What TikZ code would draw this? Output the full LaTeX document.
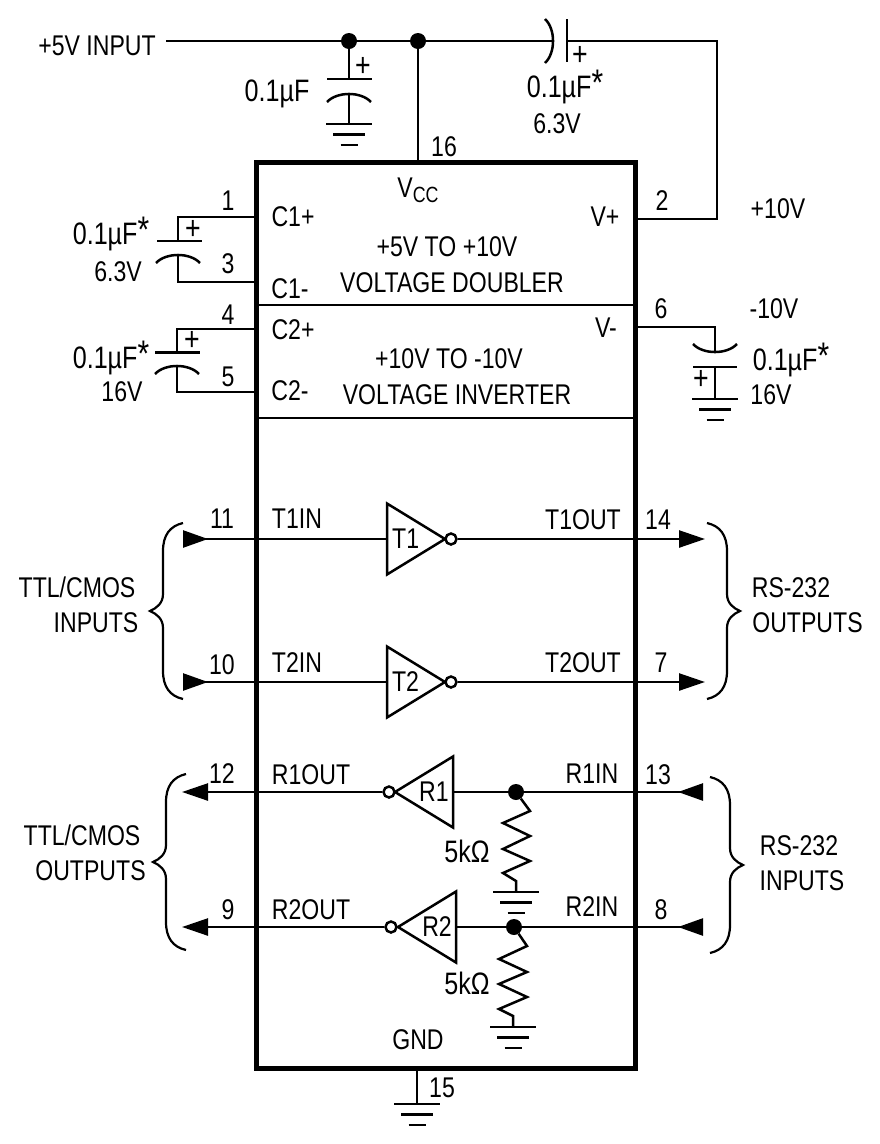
\documentclass[tikz,border=0pt]{standalone}
\usepackage{fontspec}
\setmainfont[FakeStretch=0.81]{Liberation Sans}
\usetikzlibrary{arrows.meta,shapes.geometric}
\newcommand{\capstar}{\raisebox{1.5pt}{\fontsize{37}{37}\selectfont *}}
\tikzset{%
  wire/.style     = {line width=2.5pt},%
  lbl/.style      = {inner sep=0pt, text height=20.4pt, text depth=0pt,%
                     font=\fontsize{28.5}{30}\selectfont},%
  val/.style      = {lbl, font=\fontsize{31}{32}\selectfont},%
  plus/.style     = {lbl, font=\fontsize{33}{33}\selectfont},%
  chipbox/.style  = {draw, line width=5pt, inner sep=0pt, outer sep=0pt,%
                     minimum width=378.5pt, minimum height=905.5pt},%
  inv/.style      = {draw, wire, shape=isosceles triangle, isosceles triangle stretches,%
                     inner sep=0pt, outer sep=0pt, minimum width=71pt, minimum height=58pt,%
                     font=\fontsize{28.5}{30}\selectfont},%
  bub/.style      = {circle, draw, wire, fill=white, inner sep=0pt, minimum size=11pt},%
  dot/.style      = {circle, fill=black, inner sep=0pt, minimum size=16pt},%
  headin/.style   = {wire, {Triangle[reversed,length=25pt,width=17pt]}-},%
  headout/.style  = {wire, -{Triangle[length=26pt,width=17pt]}},%
  headback/.style = {wire, -{Triangle[reversed,length=25pt,width=17pt]}},%
  gnd/.pic        = {\draw[wire] (-23,0) -- (23,0) (-16,10.5) -- (16,10.5) (-8.5,21) -- (8.5,21);},%
  plate/.pic      = {\draw[wire] (-22,8) .. controls (-12,-2.7) and (12,-2.7) .. (22,8);},%
  brace/.pic      = {\draw[line width=2.2pt] (33,-88) .. controls (20,-85) and (13,-76) .. (13,-60)
                     -- (13,-17) .. controls (13,-8) and (7,-3) .. (0,0)
                     .. controls (7,3) and (13,8) .. (13,17) -- (13,60)
                     .. controls (13,76) and (20,85) .. (33,88);}%
}

\begin{document}
\begin{tikzpicture}[x=1pt,y=-1pt]
	\useasboundingbox (0,0) rectangle (880,1144);
	\node[chipbox] (chip) at (445.75,615.25) {};
	\coordinate (div1) at (256,305);
	\coordinate (div2) at (256,418);
	\draw[wire] (chip.west |- div1) -- (chip.east |- div1);
	\draw[wire] (chip.west |- div2) -- (chip.east |- div2);

	% supply rail
	\node[lbl] (lin) at (97,45) {+5V INPUT};
	\coordinate (rail) at (166,41);
	\node[dot] (d1) at (349,41) {};
	\node[dot] (d2) at (418,41) {};
	\coordinate (pump1) at (553,41);
	\coordinate (pump2) at (567,41);
	\coordinate (pump3) at (717,41);
	\coordinate (pin2) at (717,219);
	\draw[wire] (rail) -- (d1) -- (d2) -- (pump1);
	\draw[wire] (pump2) -- (pump3) -- (pin2) -- (chip.east |- pin2);
	\draw[wire] (d2) -- (d2 |- chip.north);
	\draw[wire] (567,19) -- (567,62);
	\pic[rotate=-90] at (pump1) {plate};
	\node[plus] (pp) at (580,55) {+};
	\node[val] (lpv) at (565,87) {0.1µF\capstar};
	\node[lbl] (lpw) at (557,123) {6.3V};

	\coordinate (c0a) at (349,79);
	\coordinate (c0b) at (349,94);
	\coordinate (c0c) at (349,124);
	\draw[wire] (d1) -- (c0a) (c0b) -- (c0c);
	\draw[wire] (327,79) -- (372,79);
	\pic at (c0b) {plate};
	\pic at (c0c) {gnd};
	\node[plus] (p0) at (363,66) {+};
	\node[val] (l0) at (277,91) {0.1µF};

	% C1
	\coordinate (c1a) at (178,217);
	\coordinate (c1b) at (178,241);
	\coordinate (c1c) at (178,255);
	\coordinate (c1d) at (178,282);
	\draw[wire] (chip.west |- c1a) -- (c1a) -- (c1b);
	\draw[wire] (c1c) -- (c1d) -- (chip.west |- c1d);
	\draw[wire] (157,241) -- (202,241);
	\pic at (c1c) {plate};
	\node[plus] (p1) at (193,229) {+};
	\node[val] (l1v) at (111,234) {0.1µF\capstar};
	\node[lbl] (l1w) at (118,271) {6.3V};

	% C2
	\coordinate (c2a) at (177,329);
	\coordinate (c2b) at (177,352.5);
	\coordinate (c2c) at (177,366);
	\coordinate (c2d) at (177,392);
	\draw[wire] (chip.west |- c2a) -- (c2a) -- (c2b);
	\draw[wire] (c2c) -- (c2d) -- (chip.west |- c2d);
	\draw[wire] (155,352.5) -- (200,352.5);
	\pic at (c2c) {plate};
	\node[plus] (p2) at (192,340) {+};
	\node[val] (l2v) at (111,358) {0.1µF\capstar};
	\node[lbl] (l2w) at (122,391) {16V};

	% C4
	\coordinate (c4a) at (715,327);
	\coordinate (c4b) at (715,352);
	\coordinate (c4c) at (715,367);
	\coordinate (c4d) at (715,399);
	\draw[wire] (chip.east |- c4a) -- (c4a) -- (c4b);
	\draw[wire] (c4c) -- (c4d);
	\draw[wire] (693,367) -- (737,367);
	\pic[yscale=-1] at (c4b) {plate};
	\pic at (c4d) {gnd};
	\node[plus] (p4) at (701,379) {+};
	\node[val] (l4v) at (791,360) {0.1µF\capstar};
	\node[lbl] (l4w) at (771,394) {16V};

	% chip texts
	\node[lbl] (n16) at (444,146) {16};
	\node[lbl] (vcc) at (418,187.5) {V\raisebox{-5pt}{\fontsize{22}{24}\selectfont CC}};
	\node[lbl] (n1) at (228,200) {1};
	\node[lbl] (n3) at (228,263) {3};
	\node[lbl] (n4) at (228,314) {4};
	\node[lbl] (n5) at (228,376) {5};
	\node[lbl] (n2) at (662,200) {2};
	\node[lbl] (n6) at (661,308) {6};
	\node[lbl] (pos) at (778,208) {+10V};
	\node[lbl] (neg) at (774,308) {-10V};
	\node[lbl] (sc1p) at (293,216) {C1+};
	\node[lbl] (sc1m) at (290,288) {C1-};
	\node[lbl] (sc2p) at (293,329) {C2+};
	\node[lbl] (sc2m) at (290,390) {C2-};
	\node[lbl] (svp) at (605,216) {V+};
	\node[lbl] (svm) at (606,327) {V-};
	\node[lbl] (dbl1) at (447,246) {+5V TO +10V};
	\node[lbl] (dbl2) at (452,282) {VOLTAGE DOUBLER};
	\node[lbl] (inv1) at (449,358) {+10V TO -10V};
	\node[lbl] (inv2) at (457,394) {VOLTAGE INVERTER};

	% drivers
	\node[inv,anchor=apex] (T1) at (445,539) {T1};
	\node[inv,anchor=apex] (T2) at (445,682) {T2};
	\node[bub] (bt1) at (451,539) {};
	\node[bub] (bt2) at (451,682) {};
	\coordinate (in11) at (183,539);
	\coordinate (in10) at (183,682);
	\coordinate (out14) at (705,539);
	\coordinate (out7) at (705,682);
	\draw[headin] (in11) -- (T1.west);
	\draw[headin] (in10) -- (T2.west);
	\draw[headout] (bt1) -- (out14);
	\draw[headout] (bt2) -- (out7);
	\node[lbl] (n11) at (222,518) {11};
	\node[lbl] (n10) at (222,664) {10};
	\node[lbl] (n14) at (658,519) {14};
	\node[lbl] (n7) at (661,662) {7};
	\node[lbl] (st1i) at (297,518) {T1IN};
	\node[lbl] (st2i) at (297,662) {T2IN};
	\node[lbl] (st1o) at (583,519) {T1OUT};
	\node[lbl] (st2o) at (583,662) {T2OUT};

	% receivers
	\node[inv,anchor=apex,shape border rotate=180] (R1) at (395,792) {R1};
	\node[inv,anchor=apex,shape border rotate=180] (R2) at (398,927) {R2};
	\node[bub] (br1) at (389,792) {};
	\node[bub] (br2) at (391,927) {};
	\node[dot] (d3) at (516,792) {};
	\node[dot] (d4) at (514,927) {};
	\coordinate (in13) at (703,792);
	\coordinate (in8) at (703,927);
	\coordinate (out12) at (182,792);
	\coordinate (out9) at (182,927);
	\coordinate (g1) at (516,892);
	\coordinate (g2) at (513,1027);
	\coordinate (g3) at (417,1104);
	\draw[headback] (R1.east) -- (d3) -- (in13);
	\draw[headback] (R2.east) -- (d4) -- (in8);
	\draw[headout] (br1) -- (out12);
	\draw[headout] (br2) -- (out9);
	\draw[wire] (d3) -- (530,811) -- (503,823) -- (530,836) -- (503,849) -- (530,861)
		-- (503,873) -- (516,881) -- (g1);
	\draw[wire] (d4) -- (527,946) -- (499,959) -- (527,972) -- (499,984) -- (527,997)
		-- (499,1009) -- (513,1016) -- (g2);
	\draw[wire] (chip.south -| g3) -- (g3);
	\pic at (g1) {gnd};
	\pic at (g2) {gnd};
	\pic at (g3) {gnd};
	\node[lbl] (n12) at (222,773) {12};
	\node[lbl] (n9) at (228,909) {9};
	\node[lbl] (n13) at (658,774) {13};
	\node[lbl] (n8) at (661,909) {8};
	\node[lbl] (n15) at (442,1087) {15};
	\node[lbl] (sr1o) at (311,774) {R1OUT};
	\node[lbl] (sr2o) at (311,909) {R2OUT};
	\node[lbl] (sr1i) at (592,773) {R1IN};
	\node[lbl] (sr2i) at (592,906) {R2IN};
	\node[val] (r5a) at (467,852) {5kΩ};
	\node[val] (r5b) at (467,984) {5kΩ};
	\node[lbl] (sgnd) at (418,1039) {GND};

	% side groups
	\pic at (150,611) {brace};
	\pic at (153,862) {brace};
	\pic[xscale=-1] at (740,611) {brace};
	\pic[xscale=-1] at (743,865) {brace};
	\node[lbl] (g1a) at (77,587) {TTL/CMOS};
	\node[lbl] (g1b) at (96,622) {INPUTS};
	\node[lbl] (g2a) at (82,835) {TTL/CMOS};
	\node[lbl] (g2b) at (90.5,870) {OUTPUTS};
	\node[lbl] (g3a) at (791,587) {RS-232};
	\node[lbl] (g3b) at (807.5,622) {OUTPUTS};
	\node[lbl] (g4a) at (799,845) {RS-232};
	\node[lbl] (g4b) at (802,880) {INPUTS};
\end{tikzpicture}
\end{document}
